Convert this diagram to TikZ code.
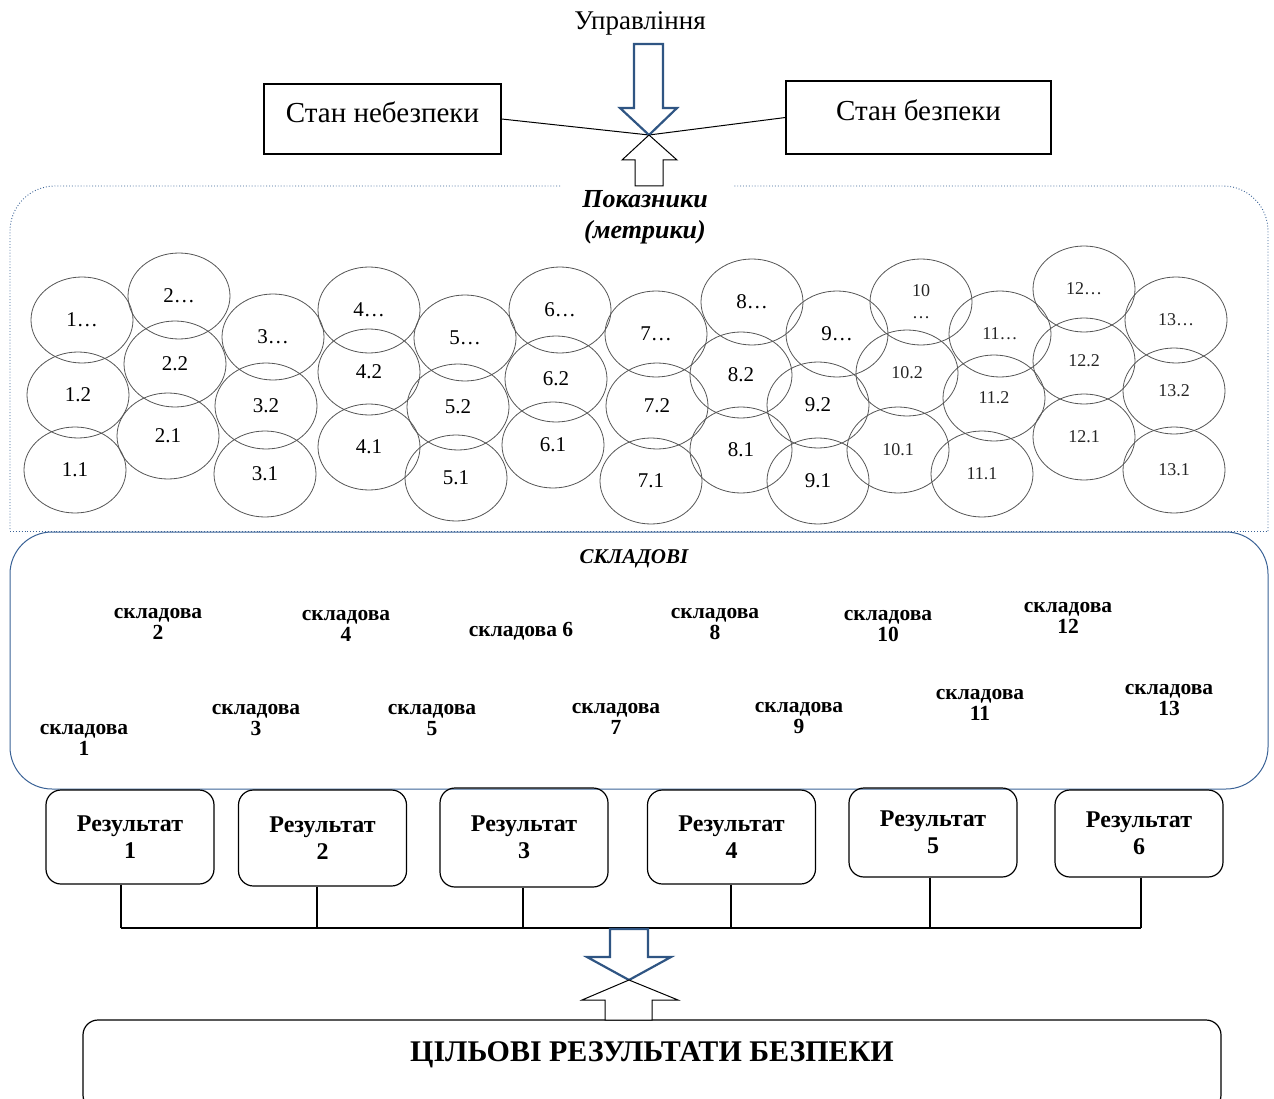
\documentclass[tikz,border=0pt]{standalone}
\usepackage{fontspec}
\setmainfont{Liberation Serif}
\usetikzlibrary{shapes.geometric,calc}

\definecolor{arrowblue}{RGB}{47,85,131}
\definecolor{frameblue}{RGB}{58,98,150}
\definecolor{ringgray}{RGB}{85,85,85}

\tikzset{
  metric/.style={ellipse, draw=ringgray, line width=0.8pt, minimum width=102pt,
    minimum height=86pt, inner sep=0pt, font=\fontsize{21}{23}\selectfont},
  metricsm/.style={metric, font=\fontsize{18}{22}\selectfont, text=black!85},
  part/.style={font=\bfseries\fontsize{21.5}{21}\selectfont, align=center, inner sep=0pt,
    yshift=-3pt},
  result/.style={draw, line width=1.2pt, rounded corners=15pt, inner sep=0pt,
    font=\bfseries\fontsize{24}{27}\selectfont, align=center,
    minimum width=168pt},
  statebox/.style={draw, line width=1.2pt, inner sep=0pt},
  statetext/.style={font=\fontsize{29}{32}\selectfont, inner sep=0pt},
  dotframe/.style={draw=frameblue, line width=0.9pt, dotted},
  blockblue/.style={draw=arrowblue, line width=2.2pt, line join=miter, fill=white},
  blockblack/.style={draw=black, line width=1pt, line join=miter, fill=white},
}

\begin{document}
\begin{tikzpicture}[x=1pt, y=-1pt]
\useasboundingbox (0,0) rectangle (1274,1099);
\clip (0,0) rectangle (1274,1099);

% --- control input and the two states ---
\node[font=\fontsize{27}{29}\selectfont, inner sep=0pt] (ctrl) at (640,23) {Управління};
\coordinate (hub) at (649,135);

\node[statebox, minimum width=237pt, minimum height=70pt,
  label={[statetext, yshift=7pt]center:Стан небезпеки}] (danger) at (382.5,119) {};
\node[statebox, minimum width=265pt, minimum height=73pt,
  label={[statetext, yshift=7pt]center:Стан безпеки}] (safe) at (918.5,117.5) {};

\draw[line width=1pt] (danger.east) -- (hub);
\draw[line width=1pt] (safe.west) -- (hub);

% block arrow from the control downwards
\draw[blockblue] (634,44) -- (663,44) -- (663,108) -- (677,108) -- (hub)
  -- (620,108) -- (634,108) -- cycle;
% block arrow from the metrics upwards
\draw[blockblack] (hub) -- (677,160) -- (663,160) -- (663,186) -- (635,186)
  -- (635,160) -- (622,160) -- cycle;

% --- metrics frame ---
\draw[dotframe, rounded corners=45pt] (560,186) -- (10,186) -- (10,531);
\draw[dotframe] (10,531) -- (1268,531);
\draw[dotframe, rounded corners=45pt] (1268,531) -- (1268,186) -- (733,186);

\node[font=\bfseries\itshape\fontsize{26}{31}\selectfont, align=center, inner sep=0pt]
  (metrics) at (645,217) {Показники\\(метрики)};

% metrics, column by column
\node[metric] (m1a) at (82,320) {1…};
\node[metric] (m1b) at (78,395) {1.2};
\node[metric] (m1c) at (75,470) {1.1};
\node[metric] (m2a) at (179,296) {2…};
\node[metric] (m2b) at (175,364) {2.2};
\node[metric] (m2c) at (168,436) {2.1};
\node[metric] (m3a) at (273,337) {3…};
\node[metric] (m3b) at (266,406) {3.2};
\node[metric] (m3c) at (265,474) {3.1};
\node[metric] (m4a) at (369,310) {4…};
\node[metric] (m4b) at (369,372) {4.2};
\node[metric] (m4c) at (369,447) {4.1};
\node[metric] (m5a) at (465,338) {5…};
\node[metric] (m5b) at (458,407) {5.2};
\node[metric] (m5c) at (456,478) {5.1};
\node[metric] (m6a) at (560,310) {6…};
\node[metric] (m6b) at (556,379) {6.2};
\node[metric] (m6c) at (553,445) {6.1};
\node[metric] (m7a) at (656,334) {7…};
\node[metric] (m7b) at (657,406) {7.2};
\node[metric] (m7c) at (651,481) {7.1};
\node[metric] (m8a) at (752,302) {8…};
\node[metric] (m8b) at (741,375) {8.2};
\node[metric] (m8c) at (741,450) {8.1};
\node[metric] (m9a) at (837,334) {9…};
\node[metric] (m9b) at (818,405) {9.2};
\node[metric] (m9c) at (818,481) {9.1};
\node[metricsm, align=center] (m10a) at (921,302) {10\\…};
\node[metricsm] (m10b) at (907,373) {10.2};
\node[metricsm] (m10c) at (898,450) {10.1};
\node[metricsm] (m11a) at (1000,334) {11…};
\node[metricsm] (m11b) at (994,398) {11.2};
\node[metricsm] (m11c) at (982,474) {11.1};
\node[metricsm] (m12a) at (1084,289) {12…};
\node[metricsm] (m12b) at (1084,361) {12.2};
\node[metricsm] (m12c) at (1084,437) {12.1};
\node[metricsm] (m13a) at (1176,320) {13…};
\node[metricsm] (m13b) at (1174,391) {13.2};
\node[metricsm] (m13c) at (1174,470) {13.1};

% --- components frame ---
\draw[draw=frameblue, line width=1pt, rounded corners=42pt] (10,532) rectangle (1268,789);
\node[font=\bfseries\itshape\fontsize{21}{23}\selectfont, inner sep=0pt] (parts) at (634,559) {СКЛАДОВІ};

\node[part] (p1)  at (84,737)   {складова\\1};
\node[part] (p2)  at (158,621)  {складова\\2};
\node[part] (p3)  at (256,717)  {складова\\3};
\node[part] (p4)  at (346,623)  {складова\\4};
\node[part] (p5)  at (432,717)  {складова\\5};
\node[part] (p6)  at (521,628)  {складова 6};
\node[part] (p7)  at (616,716)  {складова\\7};
\node[part] (p8)  at (715,621)  {складова\\8};
\node[part] (p9)  at (799,715)  {складова\\9};
\node[part] (p10) at (888,623)  {складова\\10};
\node[part] (p11) at (980,702)  {складова\\11};
\node[part] (p12) at (1068,615) {складова\\12};
\node[part] (p13) at (1169,697) {складова\\13};

% --- results ---
\node[result, minimum height=94pt] (r1) at (130,837)   {Результат\\1};
\node[result, minimum height=96pt] (r2) at (322.5,838) {Результат\\2};
\node[result, minimum height=99pt] (r3) at (524,837.5) {Результат\\3};
\node[result, minimum height=94pt] (r4) at (731.5,837) {Результат\\4};
\node[result, minimum height=89pt] (r5) at (933,832.5) {Результат\\5};
\node[result, minimum height=87pt] (r6) at (1139,833.5) {Результат\\6};

\coordinate (busL) at (121,928);
\coordinate (busR) at (1141,928);
\draw[line width=1.2pt] (busL) -- (busR);
\foreach \r/\dx in {r1/-9, r2/-5.5, r3/-1, r4/-0.5, r5/-3, r6/2} {
  \draw[line width=1.2pt] ([xshift=\dx pt]\r.south) -- ([xshift=\dx pt]\r.south |- busL);
}

% --- target results ---
\node[draw, line width=1.2pt, rounded corners=15pt, minimum width=1138pt,
  minimum height=90pt, inner sep=0pt,
  label={[font=\bfseries\fontsize{30}{32}\selectfont, inner sep=0pt, yshift=10pt]center:ЦІЛЬОВІ РЕЗУЛЬТАТИ БЕЗПЕКИ}]
  (goal) at (652,1065) {};

\coordinate (hub2) at (629,980);
\draw[blockblue] (610,929) -- (648,929) -- (648,957) -- (671,957) -- (hub2)
  -- (587,957) -- (610,957) -- cycle;
\draw[blockblack] (hub2) -- (678,1000) -- (652,1000) -- (652,1020) -- (605,1020)
  -- (605,1000) -- (582,1000) -- cycle;

\end{tikzpicture}
\end{document}
